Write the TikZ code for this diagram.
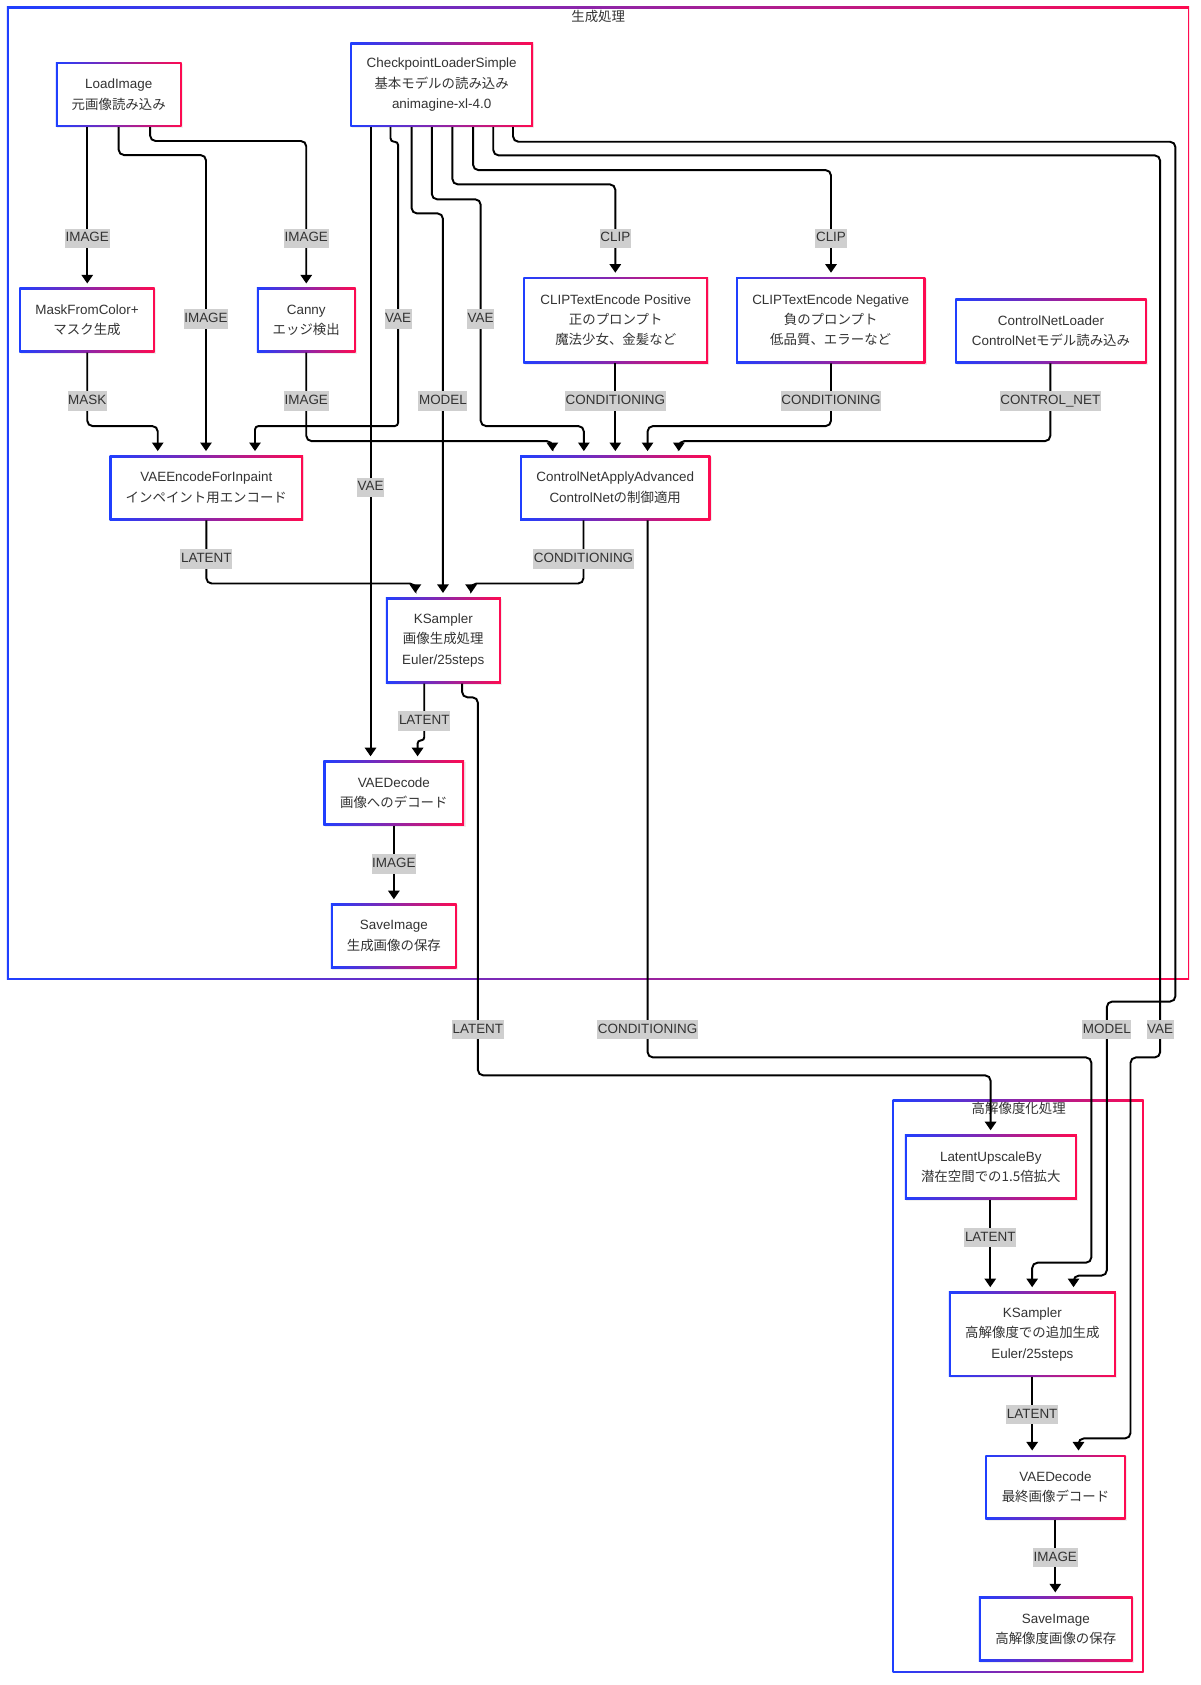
\documentclass[tikz,border=0pt]{standalone}
\usepackage{fontspec}
\setmainfont{Liberation Sans}
\newfontfamily\jpf{Noto Sans CJK JP}
\usetikzlibrary{arrows.meta,shadows}
\definecolor{gblue}{HTML}{1F3FFF}
\definecolor{gred}{HTML}{FF0A50}
\definecolor{lgray}{HTML}{CFCFCF}
\definecolor{txt}{HTML}{333333}
\newcommand\jp[1]{{\jpf #1}}
\newcommand\nfont{\fontsize{12.5}{19}\selectfont}
\tikzset{
  gbox/.style={rectangle, inner sep=0pt, align=center, text=txt, font=\nfont, fill=white,
    drop shadow={opacity=0.12, shadow xshift=1.2pt, shadow yshift=-1.2pt},
    path picture={
      \shade[left color=gblue, right color=gred] (path picture bounding box.south west) rectangle (path picture bounding box.north east);
      \fill[white] ([shift={(1.9pt,1.9pt)}]path picture bounding box.south west) rectangle ([shift={(-1.9pt,-1.9pt)}]path picture bounding box.north east);
    }},
  gclus/.style={rectangle, inner sep=0pt, fill=white,
    path picture={
      \shade[left color=gblue, right color=gred] (path picture bounding box.south west) rectangle (path picture bounding box.north east);
      \fill[white] ([shift={(1.5pt,1.5pt)}]path picture bounding box.south west) rectangle ([shift={(-1.5pt,-1.5pt)}]path picture bounding box.north east);
    }},
  ctitle/.style={text=txt, font=\nfont, inner sep=0pt},
  conn/.style={draw=black, line width=1.8pt, rounded corners=5pt, shorten >=4pt,
    -{Triangle[length=8pt,width=10.5pt]}},
  lbl/.style={fill=lgray, text=txt, font=\nfont, inner xsep=0.6pt, inner ysep=0pt,
    text height=9.5pt, text depth=2.8pt, minimum height=18.3pt}
}
\begin{document}
\begin{tikzpicture}[x=1pt,y=-1pt]
\useasboundingbox[fill=white] (0,0) rectangle (1117,1568);

% clusters
\node[gclus, minimum width=1100.1pt, minimum height=904.8pt] (c1) at (556.55,458.9) {};
\node[ctitle] (t1) at (556.7,15.5) {\jp{生成処理}};
\node[gclus, minimum width=233.7pt, minimum height=532.8pt] (c2) at (947.45,1290) {};
\node[ctitle] (t2) at (948,1031.7) {\jp{高解像度化処理}};

% nodes
\node[gbox, minimum width=117pt, minimum height=60pt] (load) at (110.5,88) {LoadImage\\\jp{元画像読み込み}};
\node[gbox, minimum width=170pt, minimum height=78pt] (ckpt) at (411,79) {CheckpointLoaderSimple\\\jp{基本モデルの読み込み}\\animagine-xl-4.0};
\node[gbox, minimum width=126pt, minimum height=60pt] (mask) at (81,298) {MaskFromColor+\\\jp{マスク生成}};
\node[gbox, minimum width=92pt, minimum height=60pt] (canny) at (285,298) {Canny\\\jp{エッジ検出}};
\node[gbox, minimum width=172pt, minimum height=80pt] (clippos) at (573,298) {CLIPTextEncode Positive\\\jp{正のプロンプト}\\\jp{魔法少女、金髪など}};
\node[gbox, minimum width=176pt, minimum height=80pt] (clipneg) at (773,298) {CLIPTextEncode Negative\\\jp{負のプロンプト}\\\jp{低品質、エラーなど}};
\node[gbox, minimum width=178pt, minimum height=60pt] (cnload) at (978,308) {ControlNetLoader\\ControlNet\jp{モデル読み込み}};
\node[gbox, minimum width=180pt, minimum height=60pt] (vaeenc) at (192,454) {VAEEncodeForInpaint\\\jp{インペイント用エンコード}};
\node[gbox, minimum width=177pt, minimum height=60pt] (cnapply) at (572.5,454) {ControlNetApplyAdvanced\\ControlNet\jp{の制御適用}};
\node[gbox, minimum width=107pt, minimum height=80pt] (ks) at (412.5,596) {KSampler\\\jp{画像生成処理}\\Euler/25steps};
\node[gbox, minimum width=131pt, minimum height=60pt] (vaedec) at (366.5,738) {VAEDecode\\\jp{画像へのデコード}};
\node[gbox, minimum width=117pt, minimum height=60pt] (save) at (366.5,871) {SaveImage\\\jp{生成画像の保存}};
\node[gbox, minimum width=160pt, minimum height=60pt] (upscale) at (922,1086) {LatentUpscaleBy\\\jp{潜在空間での1.5倍拡大}};
\node[gbox, minimum width=155.5pt, minimum height=79pt] (ks2) at (960.7,1241.5) {KSampler\\\jp{高解像度での追加生成}\\Euler/25steps};
\node[gbox, minimum width=130.5pt, minimum height=60pt] (vaedec2) at (982.2,1384) {VAEDecode\\\jp{最終画像デコード}};
\node[gbox, minimum width=143pt, minimum height=60pt] (save2) at (982.5,1516) {SaveImage\\\jp{高解像度画像の保存}};

% connectors
\draw[conn] (81.2,0 |- load.south) -- (81.2,0 |- mask.north);
\draw[conn] (110.4,0 |- load.south) -- (110.4,144.3) -- (191.7,144.3) -- (191.7,0 |- vaeenc.north);
\draw[conn] (139.7,0 |- load.south) -- (139.7,131.2) -- (285,131.2) -- (285,0 |- canny.north);
\draw[conn] (81.2,0 |- mask.south) -- (81.2,396.5) -- (146.8,396.5) -- (146.8,0 |- vaeenc.north);
\draw[conn] (285,0 |- canny.south) -- (285,410.5) -- (514,410.5) -- (514,0 |- cnapply.north);
\draw[conn, rounded corners=3.2pt] (363.4,0 |- ckpt.south) -- (363.4,131.9) -- (370.5,131.9) -- (370.5,396.5) -- (237.3,396.5) -- (237.3,0 |- vaeenc.north);
\draw[conn] (344.8,0 |- ckpt.south) -- (344.8,0 |- vaedec.north);
\draw[conn] (383,0 |- ckpt.south) -- (383,198.6) -- (412.2,198.6) -- (412.2,0 |- ks.north);
\draw[conn] (401.8,0 |- ckpt.south) -- (401.8,185.5) -- (447.3,185.5) -- (447.3,396.5) -- (543.3,396.5) -- (543.3,0 |- cnapply.north);
\draw[conn] (421,0 |- ckpt.south) -- (421,171.6) -- (572.6,171.6) -- (572.6,0 |- clippos.north);
\draw[conn] (440.2,0 |- ckpt.south) -- (440.2,158.3) -- (773.3,158.3) -- (773.3,0 |- clipneg.north);
\draw[conn] (459,0 |- ckpt.south) -- (459,144.6) -- (1079.6,144.6) -- (1079.6,984) -- (1052,984) -- (1052,1338.5) -- (1003.6,1338.5) -- (1003.6,0 |- vaedec2.north);
\draw[conn] (477.4,0 |- ckpt.south) -- (477.4,131.9) -- (1093.8,131.9) -- (1093.8,932) -- (1030,932) -- (1030,1187) -- (999,1187) -- (999,0 |- ks2.north);
\draw[conn] (572.6,0 |- clippos.south) -- (572.6,0 |- cnapply.north);
\draw[conn] (773.3,0 |- clipneg.south) -- (773.3,396.5) -- (602.6,396.5) -- (602.6,0 |- cnapply.north);
\draw[conn] (977.4,0 |- cnload.south) -- (977.4,410.5) -- (631.7,410.5) -- (631.7,0 |- cnapply.north);
\draw[conn] (192,0 |- vaeenc.south) -- (192,543) -- (386.5,543) -- (386.5,0 |- ks.north);
\draw[conn] (543,0 |- cnapply.south) -- (543,543) -- (438.4,543) -- (438.4,0 |- ks.north);
\draw[conn] (602.6,0 |- cnapply.south) -- (602.6,984) -- (1015.6,984) -- (1015.6,1175) -- (960.5,1175) -- (960.5,0 |- ks2.north);
\draw[conn, rounded corners=2.9pt] (394.8,0 |- ks.south) -- (394.8,689) -- (388.6,689) -- (388.6,0 |- vaedec.north);
\draw[conn] (430,0 |- ks.south) -- (430,648.9) -- (444.7,648.9) -- (444.7,1000.7) -- (921.8,1000.7) -- (921.8,0 |- upscale.north);
\draw[conn] (366.5,0 |- vaedec.south) -- (366.5,0 |- save.north);
\draw[conn] (921.5,0 |- upscale.south) -- (921.5,0 |- ks2.north);
\draw[conn] (960.5,0 |- ks2.south) -- (960.5,0 |- vaedec2.north);
\draw[conn] (982,0 |- vaedec2.south) -- (982,0 |- save2.north);

% labels
\node[lbl] (l1) at (81.2,221.8) {IMAGE};
\node[lbl] (l2) at (191.7,297) {IMAGE};
\node[lbl] (l3) at (285,221.8) {IMAGE};
\node[lbl] (l4) at (81.2,373.3) {MASK};
\node[lbl] (l5) at (285,373.3) {IMAGE};
\node[lbl] (l6) at (370.5,297) {VAE};
\node[lbl] (l7) at (344.8,453.5) {VAE};
\node[lbl] (l8) at (412.2,373.3) {MODEL};
\node[lbl] (l9) at (447.3,297) {VAE};
\node[lbl] (l10) at (572.6,221.8) {CLIP};
\node[lbl] (l11) at (773.3,221.8) {CLIP};
\node[lbl] (l12) at (1079.6,958) {VAE};
\node[lbl] (l13) at (1030,958) {MODEL};
\node[lbl] (l14) at (572.6,373.3) {CONDITIONING};
\node[lbl] (l15) at (773.3,373.3) {CONDITIONING};
\node[lbl] (l16) at (977.4,373.3) {CONTROL\_NET};
\node[lbl] (l17) at (192,520) {LATENT};
\node[lbl] (l18) at (543,520) {CONDITIONING};
\node[lbl] (l19) at (602.6,958) {CONDITIONING};
\node[lbl] (l20) at (394.8,671) {LATENT};
\node[lbl] (l21) at (444.7,958) {LATENT};
\node[lbl] (l22) at (366.5,804.3) {IMAGE};
\node[lbl] (l23) at (921.5,1151.7) {LATENT};
\node[lbl] (l24) at (960.5,1316.3) {LATENT};
\node[lbl] (l25) at (982,1449.4) {IMAGE};
\end{tikzpicture}
\end{document}
